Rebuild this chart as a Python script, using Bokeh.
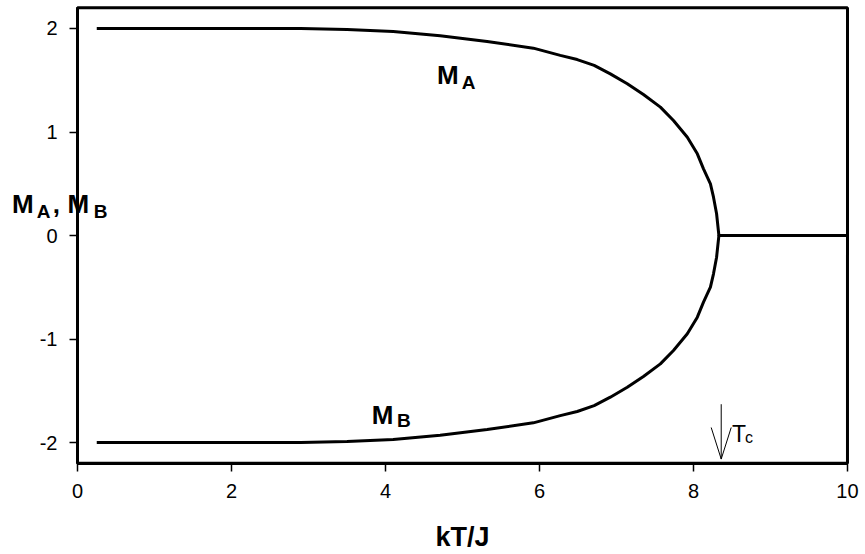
from bokeh.plotting import figure
from bokeh.models import FixedTicker, Label, BoxAnnotation
from bokeh.embed import file_html
from bokeh.resources import INLINE

# Sublattice magnetizations versus reduced temperature kT/J
kT = [0.25, 1.0, 2.0, 2.9, 3.5, 4.1, 4.71, 5.32, 5.92, 6.27, 6.49, 6.71, 6.92,
      7.14, 7.35, 7.57, 7.74, 7.92, 8.05, 8.13, 8.22, 8.26, 8.30, 8.33, 10.0]
M_A = [2.0, 2.0, 2.0, 2.0, 1.99, 1.97, 1.93, 1.875, 1.81, 1.74, 1.70, 1.643, 1.562,
       1.466, 1.362, 1.24, 1.111, 0.95, 0.789, 0.644, 0.499, 0.37, 0.21, 0.0, 0.0]
M_B = [-2.0, -2.0, -2.0, -2.0, -1.99, -1.97, -1.93, -1.875, -1.81, -1.74, -1.70, -1.643, -1.562,
       -1.466, -1.362, -1.24, -1.111, -0.95, -0.789, -0.644, -0.499, -0.37, -0.21, 0.0, 0.0]

T_c = 8.36
x_ticks = [0, 2, 4, 6, 8, 10]
y_ticks = [-2, -1, 0, 1, 2]
y_tick_labels = ["-2", "-1", "0", "1", "2"]
x_lim = (0, 10)
y_lim = (-2.2, 2.2)

FONT = "Liberation Sans"

# The data frame fills the canvas; the axes sit at fixed data positions so
# that the horizontal y-axis title can share space with the axis line.
p = figure(width=865, height=554, x_range=(-1.0, 10.234), y_range=(-3.082, 2.2705),
           output_backend="svg", toolbar_location=None, min_border=0)
p.background_fill_color = "white"
p.border_fill_color = "white"
p.outline_line_color = None
p.xgrid.visible = False
p.ygrid.visible = False

# plot box
p.add_layout(BoxAnnotation(left=x_lim[0], right=x_lim[1], bottom=y_lim[0], top=y_lim[1],
                           fill_alpha=0, line_color="black", line_alpha=1.0, line_width=3))

p.line(kT, M_A, line_color="black", line_width=3)
p.line(kT, M_B, line_color="black", line_width=3)

# arrow marking the critical temperature
p.segment(x0=[T_c], y0=[-1.63], x1=[T_c], y1=[-2.16], line_color="black", line_width=1)
p.segment(x0=[T_c - 0.13, T_c + 0.13], y0=[-1.855, -1.855],
          x1=[T_c, T_c], y1=[-2.16, -2.16], line_color="black", line_width=1)

for ax in (p.xaxis[0], p.yaxis[0]):
    ax.axis_line_width = 3
    ax.axis_line_color = "black"
    ax.major_tick_in = 0
    ax.major_tick_out = 8
    ax.major_tick_line_width = 1.5
    ax.minor_tick_line_color = None
    ax.major_label_text_font = FONT
    ax.major_label_text_font_size = "20px"
    ax.major_label_text_color = "black"

p.xaxis.fixed_location = y_lim[0]
p.xaxis.bounds = x_lim
p.yaxis.fixed_location = x_lim[0]
p.yaxis.bounds = y_lim

p.xaxis.ticker = FixedTicker(ticks=x_ticks)
p.yaxis.ticker = FixedTicker(ticks=y_ticks)
p.yaxis.major_label_overrides = dict(zip(y_ticks, y_tick_labels))
p.xaxis.major_label_standoff = 13
p.yaxis.major_label_standoff = 12

p.xaxis.axis_label = "kT/J"
p.xaxis.axis_label_text_font = FONT
p.xaxis.axis_label_text_font_style = "bold"
p.xaxis.axis_label_text_font_size = "27px"
p.xaxis.axis_label_text_color = "black"
p.xaxis.axis_label_standoff = 20


def add_text(x, y, text, size, bold=True):
    p.add_layout(Label(x=x, y=y, text=text, text_font=FONT,
                       text_font_size=size, text_color="black",
                       text_font_style="bold" if bold else "normal",
                       text_align="left", text_baseline="alphabetic"))


# y-axis title M_A, M_B
add_text(-0.85, 0.309, "M", "26px")
add_text(-0.53, 0.232, "A", "19px")
add_text(-0.32, 0.309, ",", "26px")
add_text(-0.13, 0.309, "M", "26px")
add_text(0.21, 0.232, "B", "19px")

# curve labels
add_text(4.67, 1.546, "M", "26px")
add_text(4.99, 1.478, "A", "19px")
add_text(3.82, -1.739, "M", "26px")
add_text(4.15, -1.787, "B", "19px")

# critical temperature label
add_text(8.50, -1.913, "T", "23px", bold=False)
add_text(8.67, -1.95, "c", "16px", bold=False)

open("out.html", "w").write(file_html(p, INLINE))
